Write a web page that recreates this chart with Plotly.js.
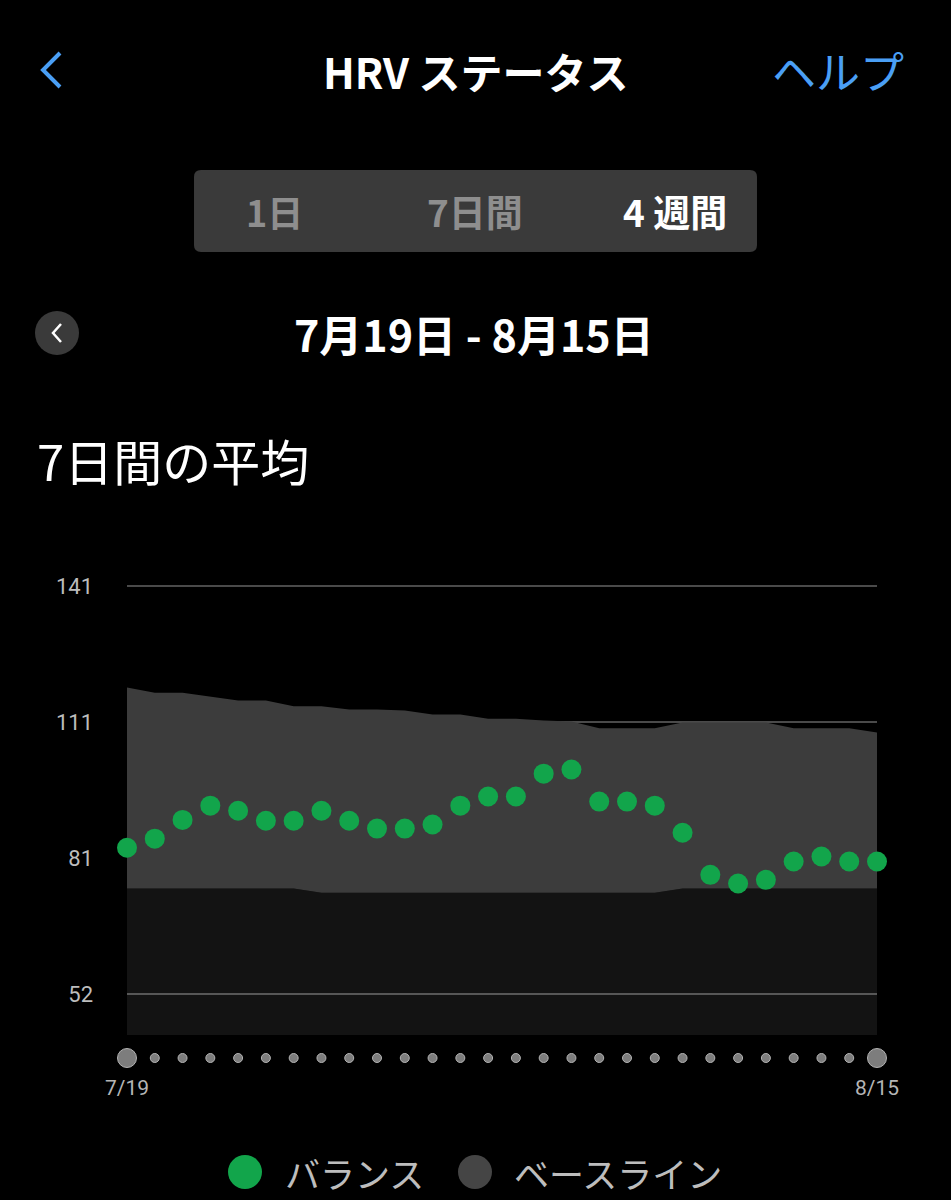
<!DOCTYPE html>
<html>
<head>
<meta charset="utf-8">
<script src="https://cdn.plot.ly/plotly-3.0.1.min.js"></script>
<style>
html,body{margin:0;padding:0;background:#000;}
#chart{width:951px;height:1200px;}
</style>
</head>
<body>
<div id="chart"></div>
<script>
// ---- data ----
const dates = ['7/19','7/20','7/21','7/22','7/23','7/24','7/25','7/26','7/27','7/28','7/29','7/30','7/31',
  '8/1','8/2','8/3','8/4','8/5','8/6','8/7','8/8','8/9','8/10','8/11','8/12','8/13','8/14','8/15'];
const balance = [83.9,85.9,90.0,93.1,92.0,89.8,89.8,92.0,89.8,88.1,88.1,89.0,93.1,95.1,95.1,100.1,101.0,94.0,94.0,93.1,87.2,78.0,76.1,76.9,80.9,82.0,80.9,80.9];
const baselineHigh = [118.9,117.8,117.8,116.9,116.1,116.1,114.8,114.8,114.1,114.1,113.9,113.0,113.0,112.1,112.1,111.7,111.5,110.0,110.0,110.0,111.3,111.3,111.3,111.3,110.0,110.0,110.0,109.1];
const baselineLow = [75.0,75.0,75.0,75.0,75.0,75.0,75.0,74.1,74.1,74.1,74.1,74.1,74.1,74.1,74.1,74.1,74.1,74.1,74.1,74.1,75.0,75.0,75.0,75.0,75.0,75.0,75.0,75.0];
const yTickVals = [52, 81.67, 111.33, 141];
const yTickText = ['52','81','111','141'];
const xTickVals = ['7/19','8/15'];
const xTickText = ['7/19','8/15'];
const seriesNames = ['バランス','ベースライン'];

// ---- helpers for page furniture ----
const W = 951, H = 1200;
const px = x => x / W;
const py = y => 1 - y / H;
const P = (x, y) => px(x).toFixed(5) + ',' + py(y).toFixed(5);

const CJK = '"Noto Sans CJK JP", "Noto Sans", sans-serif';
const NUM = 'Roboto, "Noto Sans", sans-serif';
const GREEN = '#12a54b';
const BAND = '#3c3c3c';

const traces = [
  { x: dates, y: baselineLow, type: 'scatter', mode: 'lines', line: {width: 0},
    fill: 'tozeroy', fillcolor: 'rgba(255,255,255,0.075)', hoverinfo: 'skip', showlegend: false },
  { x: dates, y: baselineHigh, type: 'scatter', mode: 'lines', line: {width: 0},
    fill: 'tonexty', fillcolor: BAND, name: seriesNames[1], showlegend: false },
  { x: dates, y: balance, type: 'scatter', mode: 'markers', name: seriesNames[0],
    marker: {size: 20, color: GREEN}, cliponaxis: false, showlegend: false },
  { x: dates, y: dates.map(() => 0), type: 'scatter', mode: 'markers', yaxis: 'y2',
    marker: {size: dates.map((d, i) => (i === 0 || i === dates.length - 1) ? 19 : 9), color: '#b3b3b3'},
    cliponaxis: false, hoverinfo: 'skip', showlegend: false }
];

const shapes = [
  // back chevron (header)
  { type: 'path', xref: 'paper', yref: 'paper', path: 'M ' + P(60,53) + ' L ' + P(43,70) + ' L ' + P(60,87),
    line: {color: '#4a9ff5', width: 4} },
  // segmented control background (rounded)
  { type: 'path', xref: 'paper', yref: 'paper', fillcolor: '#3a3a3a', line: {width: 0},
    path: 'M ' + P(201,170) + ' L ' + P(750,170) + ' Q ' + P(757,170) + ' ' + P(757,177) +
          ' L ' + P(757,245) + ' Q ' + P(757,252) + ' ' + P(750,252) +
          ' L ' + P(201,252) + ' Q ' + P(194,252) + ' ' + P(194,245) +
          ' L ' + P(194,177) + ' Q ' + P(194,170) + ' ' + P(201,170) + ' Z' },
  // date back button
  { type: 'circle', xref: 'paper', yref: 'paper', x0: px(35), x1: px(79), y0: py(355), y1: py(311),
    fillcolor: '#3a3a3a', line: {width: 0} },
  { type: 'path', xref: 'paper', yref: 'paper', path: 'M ' + P(61,324) + ' L ' + P(53,333) + ' L ' + P(61,342),
    line: {color: '#ffffff', width: 2.5} },
  // legend dots
  { type: 'circle', xref: 'paper', yref: 'paper', x0: px(228), x1: px(262), y0: py(1189), y1: py(1155),
    fillcolor: GREEN, line: {width: 0} },
  { type: 'circle', xref: 'paper', yref: 'paper', x0: px(458), x1: px(492), y0: py(1189), y1: py(1155),
    fillcolor: '#454545', line: {width: 0} }
];

function ann(text, x, y, size, color, anchor, bold, family) {
  return { text: bold ? '<b>' + text + '</b>' : text, xref: 'paper', yref: 'paper',
    x: px(x), y: py(y), xanchor: anchor || 'center', yanchor: 'middle', showarrow: false,
    font: {size: size, color: color, family: family || CJK} };
}

const annotations = [
  ann('HRV ステータス', 476, 70, 42, '#ffffff', 'center', true),
  ann('ヘルプ', 906, 70, 44, '#4a9ff5', 'right', false),
  ann('1日', 274, 211, 36, '#8e8e8e', 'center', true),
  ann('7日間', 475, 211, 37, '#8e8e8e', 'center', true),
  ann('4 週間', 675, 211, 37, '#ffffff', 'center', true),
  ann('7月19日 - 8月15日', 474, 333, 43, '#ffffff', 'center', true),
  ann('7日間の平均', 35, 460, 49, '#ffffff', 'left', false),
  ann(seriesNames[0], 283, 1172, 35, '#bdbdbd', 'left', false),
  ann(seriesNames[1], 512, 1172, 35, '#bdbdbd', 'left', false)
];

const layout = {
  width: W, height: H,
  margin: {l: 0, r: 0, t: 0, b: 0},
  paper_bgcolor: '#000', plot_bgcolor: '#000',
  showlegend: false,
  xaxis: {
    type: 'category', domain: [px(127), px(877)], range: [0, 27], anchor: 'y2',
    showgrid: false, zeroline: false, showline: false,
    tickvals: xTickVals, ticktext: xTickText, ticks: '', ticklabelstandoff: 10,
    tickfont: {size: 21, color: '#b5b5b5', family: NUM}, fixedrange: true
  },
  yaxis: {
    domain: [py(1035), py(577.3)], range: [43, 143], anchor: 'x',
    tickvals: yTickVals, ticktext: yTickText, ticks: '', ticklabelstandoff: 33,
    showgrid: true, gridcolor: '#4a4a4a', gridwidth: 2, zeroline: false, showline: false,
    tickfont: {size: 22, color: '#bdbdbd', family: NUM}, fixedrange: true
  },
  yaxis2: {
    domain: [py(1063), py(1053)], range: [-1, 1], anchor: 'x',
    showgrid: false, zeroline: false, showline: false, showticklabels: false, fixedrange: true
  },
  shapes: shapes,
  annotations: annotations
};

Plotly.newPlot('chart', traces, layout, {displayModeBar: false, staticPlot: true});
</script>
</body>
</html>
